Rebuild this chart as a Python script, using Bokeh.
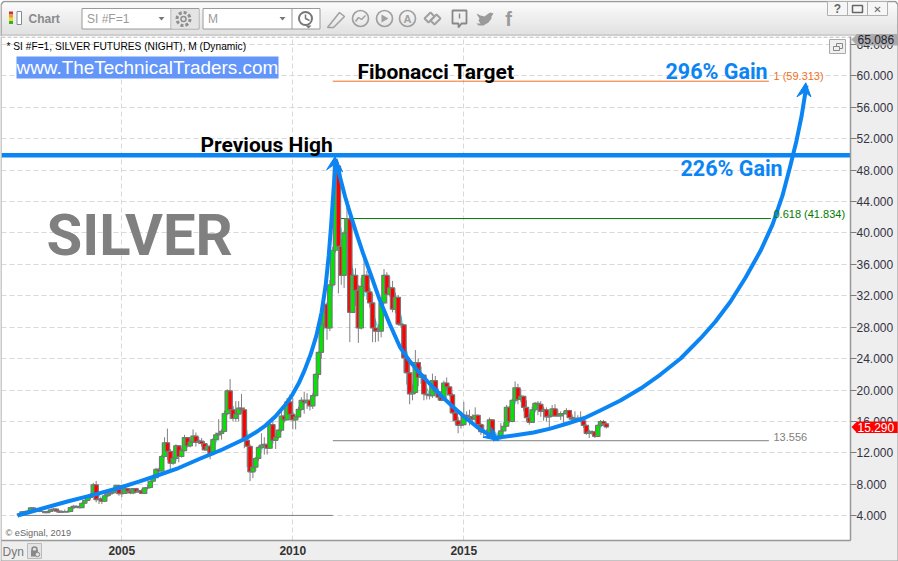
from bokeh.plotting import figure
from bokeh.layouts import column
from bokeh.embed import file_html
from bokeh.resources import INLINE
from bokeh.core.properties import value
from bokeh.models import (ColumnDataSource, FixedTicker, NumeralTickFormatter, Label,
                          BoxAnnotation)

# ---------------- monthly OHLC, Jan 2002 .. Mar 2019 ----------------
opens = [
 4.20,4.23,4.50,4.55,4.60,5.00,4.90,4.65,4.55,4.55,4.40,4.55,
 4.75,4.85,4.60,4.45,4.55,4.50,4.55,5.05,5.20,5.15,5.05,5.60,
 5.95,6.35,6.70,7.95,6.05,6.15,5.85,6.55,6.80,6.92,7.25,7.85,
 6.82,6.85,7.45,7.15,6.90,7.45,7.05,7.20,6.85,7.55,7.60,8.40,
 8.85,9.90,9.70,11.55,13.30,12.20,10.70,11.30,12.90,11.55,12.30,13.95,
 12.90,13.40,14.15,13.35,13.50,13.20,12.40,12.85,11.90,13.70,14.30,14.50,
 14.75,17.00,19.90,17.50,16.40,16.95,17.70,17.50,13.60,12.85,9.60,10.20,
 11.30,12.70,13.00,13.10,12.60,15.60,13.60,14.00,14.90,16.70,16.20,18.50,
 16.90,16.20,16.60,17.55,18.70,18.40,18.70,18.00,19.30,22.00,24.80,28.40,
 30.90,27.90,33.40,37.80,48.50,38.30,34.60,40.00,41.80,29.90,34.60,32.70,
 27.90,33.20,34.60,32.50,31.10,27.90,27.50,27.50,31.10,34.60,32.20,33.00,
 30.30,31.80,28.40,28.30,24.10,22.20,19.50,19.70,23.50,21.60,21.90,19.50,
 19.40,19.30,21.20,19.80,19.10,18.70,20.90,20.40,19.40,17.10,16.10,15.50,
 15.60,16.80,16.60,16.60,16.30,16.80,15.60,14.70,14.60,14.50,16.20,14.10,
 13.80,14.10,14.80,15.40,17.80,16.00,18.70,20.30,18.80,19.20,17.80,16.50,
 15.90,17.50,18.30,18.20,17.30,17.50,16.60,16.70,17.60,16.70,16.70,17.00,
 17.00,17.40,16.50,16.30,16.40,16.40,16.10,15.50,14.50,14.70,14.70,14.10,
 15.50,16.00,15.70]
highs = [
 4.32,4.60,4.65,4.70,5.10,5.12,4.95,4.70,4.70,4.58,4.65,4.85,
 5.00,4.95,4.70,4.70,4.80,4.70,5.15,5.40,5.35,5.30,5.70,6.05,
 6.60,6.90,8.20,8.45,6.30,6.30,6.90,6.95,7.25,7.40,7.95,8.00,
 7.00,7.60,7.55,7.50,7.55,7.55,7.30,7.40,7.60,7.90,8.45,9.25,
 10.10,10.10,11.75,14.00,15.10,12.50,11.60,13.10,13.00,12.60,14.30,14.00,
 13.75,15.00,14.60,14.00,13.90,13.50,13.20,13.10,13.90,14.60,16.30,15.00,
 17.40,20.10,21.40,18.00,18.60,18.60,19.50,17.80,14.20,13.10,10.80,11.50,
 12.90,14.50,14.00,13.10,15.90,16.10,14.20,15.00,17.50,18.00,19.00,19.45,
 19.00,16.70,17.90,19.10,19.80,19.60,18.80,19.60,22.10,24.90,29.00,31.20,
 31.20,34.00,38.20,49.80,49.00,39.30,40.30,43.30,42.00,35.50,35.50,33.40,
 34.30,37.50,35.20,33.00,32.30,29.00,28.40,31.80,35.40,35.00,34.50,33.90,
 32.40,32.10,29.30,28.40,24.90,23.50,20.60,25.10,24.00,23.00,22.00,20.20,
 20.50,22.10,21.80,20.20,19.80,21.20,21.60,20.50,19.60,17.50,16.60,17.30,
 18.50,17.30,17.50,16.90,17.80,16.90,15.80,15.60,15.00,16.50,16.30,14.50,
 14.60,15.80,15.90,18.10,18.00,18.90,21.10,20.80,20.10,19.30,18.70,17.00,
 17.90,18.50,18.60,18.60,17.90,17.80,17.00,18.10,18.20,17.50,17.30,17.30,
 17.70,17.50,16.90,17.30,16.80,17.30,16.00,15.60,14.90,14.90,14.70,15.60,
 16.20,16.20,15.90]
lows = [
 4.18,4.20,4.45,4.50,4.55,4.75,4.55,4.45,4.48,4.35,4.38,4.50,
 4.70,4.55,4.35,4.40,4.45,4.42,4.50,4.95,5.00,4.95,5.00,5.50,
 5.90,6.10,6.65,5.70,5.50,5.50,5.75,6.40,6.55,6.80,7.20,6.55,
 6.40,6.80,6.85,6.75,6.75,6.95,6.90,6.80,6.80,7.40,7.50,8.30,
 8.80,9.20,9.60,11.50,11.10,9.50,10.50,11.00,10.80,11.40,12.20,12.70,
 12.70,13.30,12.80,13.10,12.80,12.30,12.20,11.20,11.70,13.60,13.60,13.70,
 14.70,16.80,16.30,16.00,16.00,16.00,17.00,12.60,10.20,8.40,8.80,9.70,
 11.00,12.50,11.80,11.80,12.50,13.20,12.50,13.80,14.70,15.90,16.30,16.70,
 15.00,15.00,16.50,17.40,17.00,17.60,17.40,17.60,19.20,21.50,24.00,28.20,
 26.40,27.50,33.10,37.50,32.30,33.40,33.00,37.80,26.10,30.00,30.70,26.00,
 27.70,33.00,31.50,30.50,26.10,26.10,26.20,26.70,31.00,31.00,31.90,29.90,
 29.80,28.20,27.90,22.20,20.70,18.20,18.70,19.50,20.50,20.80,18.70,18.80,
 18.80,19.00,19.40,18.70,18.60,18.60,20.00,19.20,16.90,15.60,14.50,15.10,
 15.50,16.00,15.50,15.80,16.00,15.50,14.30,13.90,14.20,14.40,14.00,13.60,
 13.60,13.70,14.80,15.30,15.80,15.90,18.50,18.20,18.50,17.30,16.00,15.60,
 15.90,17.30,16.80,16.60,16.10,16.00,15.20,16.60,16.60,16.60,16.20,15.70,
 16.90,16.20,16.00,16.20,16.00,15.90,15.20,14.30,13.90,14.30,13.90,14.00,
 15.30,15.50,15.10]
closes = [
 4.23,4.50,4.55,4.60,5.00,4.90,4.65,4.55,4.55,4.40,4.55,4.75,
 4.85,4.60,4.45,4.55,4.50,4.55,5.05,5.20,5.15,5.05,5.60,5.95,
 6.35,6.70,7.95,6.05,6.15,5.85,6.55,6.80,6.92,7.25,7.85,6.82,
 6.85,7.45,7.15,6.90,7.45,7.05,7.20,6.85,7.55,7.60,8.40,8.85,
 9.90,9.70,11.55,13.30,12.20,10.70,11.30,12.90,11.55,12.30,13.95,12.90,
 13.40,14.15,13.35,13.50,13.20,12.40,12.85,11.90,13.70,14.30,14.50,14.75,
 17.00,19.90,17.50,16.40,16.95,17.70,17.50,13.60,12.85,9.60,10.20,11.30,
 12.70,13.00,13.10,12.60,15.60,13.60,14.00,14.90,16.70,16.20,18.50,16.90,
 16.20,16.60,17.55,18.70,18.40,18.70,18.00,19.30,22.00,24.80,28.40,30.90,
 27.90,33.40,37.80,48.50,38.30,34.60,40.00,41.80,29.90,34.60,32.70,27.90,
 33.20,34.60,32.50,31.10,27.90,27.50,27.50,31.10,34.60,32.20,33.00,30.30,
 31.80,28.40,28.30,24.10,22.20,19.50,19.70,23.50,21.60,21.90,19.50,19.40,
 19.30,21.20,19.80,19.10,18.70,20.90,20.40,19.40,17.10,16.10,15.50,15.60,
 16.80,16.60,16.60,16.30,16.80,15.60,14.70,14.60,14.50,16.20,14.10,13.80,
 14.10,14.80,15.40,17.80,16.00,18.70,20.30,18.80,19.20,17.80,16.50,15.90,
 17.50,18.30,18.20,17.30,17.50,16.60,16.70,17.60,16.70,16.70,17.00,17.00,
 17.40,16.50,16.30,16.40,16.40,16.10,15.50,14.50,14.70,14.70,14.10,15.50,
 16.00,15.70,15.30]
ma_line = [
 4.2,4.4,4.4,4.55,4.7,4.8,4.85,4.7,4.6,4.5,4.5,4.6,
 4.7,4.7,4.6,4.5,4.5,4.5,4.7,4.9,5.1,5.15,5.3,5.55,
 5.9,6.3,7.0,6.9,6.7,6.0,6.2,6.4,6.75,7.0,7.35,7.3,
 7.2,7.05,7.15,7.2,7.2,7.1,7.2,7.05,7.2,7.35,7.85,8.3,
 9.05,9.5,10.4,11.5,12.35,12.05,11.4,11.65,11.9,12.25,12.6,13.05,
 13.4,13.8,13.9,13.7,13.35,13.1,12.8,12.4,12.8,13.3,14.2,14.5,
 15.4,17.2,18.1,17.9,16.95,17.0,17.4,16.3,14.65,12.0,10.9,10.4,
 11.4,12.3,12.9,12.9,13.8,13.9,14.4,14.2,15.2,15.95,17.1,17.2,
 17.2,16.6,16.8,17.6,18.2,18.6,18.4,18.7,19.4,22.0,25.2,28.0,
 29.0,30.7,33.0,39.7,41.5,40.5,37.6,38.8,37.2,35.4,32.4,31.7,
 31.3,31.9,33.4,33.0,30.5,28.9,27.6,28.7,31.1,32.9,33.3,31.8,
 31.7,30.2,29.5,26.9,24.9,21.9,20.5,20.9,21.6,22.3,21.0,20.3,
 19.4,19.9,20.1,20.0,19.2,19.6,20.0,20.2,19.0,17.5,16.2,15.7,
 15.9,16.3,16.7,16.5,16.6,16.2,15.7,15.0,14.6,15.1,14.8,14.7,
 14.0,14.2,14.8,16.0,16.4,17.5,18.3,19.3,19.4,18.6,17.5,16.7,
 16.6,17.2,18.0,17.9,17.7,17.1,16.9,17.0,17.0,17.0,16.8,16.9,
 17.1,16.9,16.7,16.4,16.4,16.3,16.0,15.4,14.9,14.6,14.5,14.8,
 15.2,15.7,15.7]
first_year = 2002

# levels
prev_high = 49.9
fib_1 = 59.313
fib_618 = 41.834
fib_low = 13.556
base_level = 4.05
last_price = 15.29
top_price = 65.086

# hand-drawn blue curves (year, price)
c1_year = [2001.95,2002.68,2003.41,2004.2,2004.96,2005.5,2006.04,2006.66,2007.30,2007.94,2008.62,2008.91,2009.20,2009.49,2009.79,2009.99,2010.17,2010.34,2010.52,2010.69,2010.84,2010.96,2011.05,2011.12,2011.18,2011.23,2011.25]
c1_price = [4.04,4.93,5.82,6.70,7.60,8.35,9.13,10.08,11.29,12.44,13.84,14.60,15.49,16.64,18.16,19.43,20.83,22.48,24.52,26.93,29.86,33.29,37.11,40.93,44.75,47.93,49.46]
c2_year = [2011.26,2011.4,2011.53,2011.67,2011.86,2012.05,2012.3,2012.54,2012.83,2013.13,2013.38,2013.63,2013.86,2014.09,2014.38,2014.68,2015.03,2015.38,2015.68,2015.99]
c2_price = [49.31,46.76,44.6,42.56,39.95,37.47,34.45,31.49,28.45,25.51,23.9,22.58,21.45,20.42,19.1,17.87,16.55,15.33,14.45,13.8]
c3_year = [2015.84,2016.01,2016.51,2017.04,2017.53,2018.03,2018.53,2018.99,2019.58,2020.17,2020.75,2021.34,2021.92,2022.36,2022.80,2023.24,2023.68,2024.03,2024.32,2024.55,2024.73,2024.88,2025.02]
c3_price = [13.71,13.97,14.26,14.6,15.1,15.75,16.45,17.4,18.67,20.2,21.98,24.02,26.57,28.73,31.28,34.33,37.76,41.08,44.77,48.59,51.77,54.95,58.77]
head1_year = [2011.23,2010.99,2011.2,2011.46]
head1_price = [49.69,48.04,48.67,47.78]
head2_year = [2016.02,2015.56,2015.82,2015.8]
head2_price = [13.55,14.0,14.3,15.3]
head3_year = [2025.0,2024.74,2024.97,2025.15]
head3_price = [59.11,57.33,57.96,57.33]

y_ticks = [4,8,12,16,20,24,28,32,36,40,44,48,52,56,60,64]
x_ticks = [2005,2010,2015]

BLUE = "#0b85f3"
SANS = "Liberation Sans"
HEAD = "Roboto"
OFF = 36   # height of the strip above the chart figure

# ---------------- toolbar strip ----------------
t = figure(width=898, height=OFF, x_range=(0,898), y_range=(OFF,0), toolbar_location=None,
           output_backend="svg", min_border=0, outline_line_color=None, border_fill_color="#eeeeee",
           frame_align=False)
t.axis.visible = False
t.grid.visible = False
def grey(r):
    g = int(252-38*(r/35))
    return "#%02x%02x%02x" % (g,g,g)
rows = list(range(OFF))
t.quad(left=0, right=898, top=rows, bottom=[r+1 for r in rows],
       fill_color=[grey(r) for r in rows], line_color=None)
t.line([0.5,0.5,3,895,897.5,897.5],[OFF,4,1,1,4,OFF], line_color="#9a9a9a", line_width=1.5)
t.line([0,898],[34.5,34.5], line_color="#bdbdbd", line_width=1)

def ttext(x,y,s,size,color,style="normal",font=SANS,align="left"):
    t.text([x],[y],text=[s],text_font=value(font),text_font_size=size,text_color=color,
           text_font_style=style,text_baseline="middle",text_align=align)

# chart icon
for i,c in enumerate(["#d03030","#e8a020","#e8e020","#30b030"]):
    t.quad(left=8.5,right=12.5,top=11+i*3.2,bottom=14+i*3.2,fill_color=c,line_color=None)
t.quad(left=16.5,right=21,top=11,bottom=24,fill_color="#ffffff",line_color="#7f8c9a")
ttext(28,18.5,"Chart","12px","#8a8a8a","bold")
# combo boxes
for x0,x1,sep,label,arrow in [(81.5,198.5,170.5,"SI #F=1",161),(202.5,319.5,291.5,"M",282)]:
    t.quad(left=x0,right=x1,top=8,bottom=28.5,fill_color="#ffffff",line_color="#9a9a9a")
    t.line([sep,sep],[8,28.5],line_color="#9a9a9a")
    ttext(x0+5,18.5,label,"12px","#9a9a9a")
    t.patch([arrow-3,arrow+3,arrow],[16.5,16.5,20],fill_color="#777777",line_color=None)
t.quad(left=171,right=198,top=8.5,bottom=28,fill_color="#e4e4e4",line_color=None)
ICON="#a0a0a0"
t.circle([183],[18.5],radius=6.5,fill_color=None,line_color="#909090",line_width=3,line_dash="3 2")
t.circle([183],[18.5],radius=2.5,fill_color=None,line_color="#909090",line_width=1.5)
t.circle([305],[18],radius=6.5,fill_color=None,line_color="#777777",line_width=2)
t.line([305,305,309],[14,18,20],line_color="#777777",line_width=1.5)
t.patch([305,311,308],[25,25,28],fill_color="#777777",line_color=None)
# pencil
t.patch([327,339,344,333,327],[27,12,16,27,27],fill_color=None,line_color=ICON,line_width=1.5)
# circled icons
for cx,r in [(360,8),(384,8),(407,8)]:
    t.circle([cx],[18],radius=r,fill_color=None,line_color=ICON,line_width=1.7)
t.line([355,358,361,365],[21,17,19,15],line_color=ICON,line_width=1.5)
t.patch([381,381,388],[14,22,18],fill_color=ICON,line_color=None)
ttext(407,18,"A","11px",ICON,"bold",align="center")
# link
t.patch([424,430,434,428],[18,12,16,22],fill_color=None,line_color=ICON,line_width=2)
t.patch([430,436,440,434],[20,14,18,24],fill_color=None,line_color=ICON,line_width=2)
# speech box
t.patch([452,466,466,461,458,458,452],[10,10,23,23,27,23,23],fill_color=None,line_color="#888888",line_width=1.8)
t.line([459,459],[13,18],line_color="#888888",line_width=1.5)
# twitter bird
t.patch([476,480,484,488,490,493,491,491,488,483,478,476,480,478,479,477],
        [13,15,16,13,12,13,16,18,22,25,25,23,23,20,18,15],fill_color="#9a9a9a",line_color=None)
ttext(508,18,"f","20px","#9a9a9a","bold",align="center")
# window buttons
t.quad(left=827,right=887,top=1,bottom=15,fill_color="#f6f6f6",line_color="#b0b0b0")
for x in (847,867):
    t.line([x,x],[1,15],line_color="#b0b0b0")
ttext(837,8.5,"?","12px","#666666","bold",align="center")
t.quad(left=852,right=862,top=5,bottom=12,fill_color=None,line_color="#666666",line_width=1.5)
ttext(877,8.5,"\u2715","10px","#666666","bold",font="DejaVu Sans",align="center")

# ---------------- chart ----------------
PX_PER_YEAR = 34.2
PX_PER_UNIT = 7.857
x_left = 2005 - 120.3/PX_PER_YEAR
x_right = 2005 + 728.7/PX_PER_YEAR
y_low = 4 - 24.7/PX_PER_UNIT
y_top = 60 + 39.3/PX_PER_UNIT

p = figure(width=898, height=561-OFF, x_range=(x_left,x_right), y_range=(y_low,y_top),
           toolbar_location=None, output_backend="svg", y_axis_location="right",
           min_border_left=1, min_border_right=48, min_border_top=0, min_border_bottom=21,
           background_fill_color="#ffffff", border_fill_color="#eeeeee", outline_line_color=None,
           frame_align=False)
p.yaxis.ticker = FixedTicker(ticks=y_ticks)
p.xaxis.ticker = FixedTicker(ticks=x_ticks)
p.yaxis.formatter = NumeralTickFormatter(format="0.000")
p.xaxis.major_tick_line_color = None
p.xaxis.major_tick_out = 0
p.xaxis.major_tick_in = 0
p.xaxis.minor_tick_line_color = None
p.yaxis.minor_tick_line_color = None
p.yaxis.major_tick_in = 0
p.yaxis.major_tick_out = 6
p.yaxis.major_tick_line_color = "#7a7a7a"
p.axis.axis_line_color = "#999999"
p.axis.axis_line_width = 1.5
p.yaxis.major_label_text_font = SANS
p.yaxis.major_label_text_font_size = "12px"
p.yaxis.major_label_text_color = "#333344"
p.yaxis.major_label_standoff = 0
p.xaxis.major_label_text_font = SANS
p.xaxis.major_label_text_font_size = "12px"
p.xaxis.major_label_text_font_style = "bold"
p.xaxis.major_label_text_color = "#333333"
p.xaxis.major_label_standoff = 5
p.grid.grid_line_color = "#d9d9d9"
p.grid.grid_line_dash = "5 3"
p.grid.grid_line_width = 1

years = [first_year + i/12 for i in range(len(closes))]
src = ColumnDataSource(dict(x=years, o=opens, h=highs, l=lows, c=closes, ma=ma_line,
        color=["#00e600" if c >= o else "#ff0000" for o,c in zip(opens,closes)],
        top=[max(o,c) for o,c in zip(opens,closes)], bot=[min(o,c) for o,c in zip(opens,closes)]))

p.segment([x_left],[64.93],[x_right],[64.93],line_color="#aaaaaa",line_dash="4 2",line_width=1)

# level lines
p.segment([2011.17],[fib_1],[2023.92],[fib_1],line_color="#f07020",line_width=1)
p.segment([2011.37],[fib_618],[2023.98],[fib_618],line_color="#008000",line_width=1)
p.segment([2011.17],[fib_low],[2023.92],[fib_low],line_color="#808080",line_width=1)
p.segment([2001.93],[base_level],[2011.17],[base_level],line_color="#808080",line_width=1)

# moving average below the candles
p.line("x","ma",source=src,line_color="#22e8f0",line_width=1)
# candles
p.segment("x","h","x","l",source=src,line_color="#808080",line_width=1)
p.vbar("x",top="top",bottom="bot",width=4.4/PX_PER_YEAR,source=src,fill_color="color",
       line_color="#777777",line_width=1.2)

# previous high and arcs
p.segment([x_left],[prev_high],[x_right],[prev_high],line_color=BLUE,line_width=4.5)
for cx,cy in [(c1_year,c1_price),(c2_year,c2_price),(c3_year,c3_price)]:
    p.line(cx,cy,line_color=BLUE,line_width=4,line_join="round")
for hx,hy in [(head1_year,head1_price),(head2_year,head2_price),(head3_year,head3_price)]:
    p.patch(hx,hy,fill_color=BLUE,line_color=BLUE,line_width=1)

def lab(x,y,s,size,color,font=SANS,style="normal"):
    p.add_layout(Label(x=x,y=y,x_units="canvas",y_units="canvas",text=s,text_font=font,text_font_size=size,
                 text_color=color,text_font_style=style,text_baseline="middle"))

def box(x0,x1,y0,y1,fill,line=None):
    p.add_layout(BoxAnnotation(left=x0,right=x1,top=y0,bottom=y1,left_units="canvas",right_units="canvas",
                 top_units="canvas",bottom_units="canvas",fill_color=fill,fill_alpha=1,line_color=line,line_alpha=1 if line else 0))

# canvas y = window y - OFF
lab(6,46-OFF,"* SI #F=1, SILVER FUTURES (NIGHT), M (Dynamic)","10.2px","#000000")
box(16,278,56-OFF,78-OFF,"#6496fa")
lab(16,67-OFF,"www.TheTechnicalTraders.com","18.9px","#ffffff")
lab(357,71-OFF,"Fibonacci Target","21px","#000000",HEAD,"bold")
lab(200,144-OFF,"Previous High","21px","#000000",HEAD,"bold")
lab(665,71-OFF,"296% Gain","21.5px",BLUE,HEAD,"bold")
lab(680,168-OFF,"226% Gain","21.5px",BLUE,HEAD,"bold")
lab(46,234-OFF,"SILVER","58px","#808080",HEAD,"bold")
lab(773,75-OFF,"1 (%.3f)" % fib_1,"11px","#f07020")
lab(773,213-OFF,"0.618 (%.3f)" % fib_618,"11px","#007a00")
lab(773,436-OFF,"%.3f" % fib_low,"11px","#808080")
lab(5,532-OFF,"\u00a9 eSignal, 2019","9.2px","#666666")

# restore icon
box(829,845,39-OFF,53-OFF,"#f0f0f0","#aaaaaa")
box(836,842,43-OFF,48-OFF,"#f0f0f0","#888888")
box(833,839,46-OFF,50-OFF,"#f0f0f0","#888888")

# ---------------- transparent sheet over the whole window: price tags and status bar ----------------
g = figure(width=898, height=561, x_range=(0,898), y_range=(561,0), toolbar_location=None,
           output_backend="svg", min_border=0, outline_line_color=None,
           background_fill_alpha=0, border_fill_alpha=0, margin=(-561,0,0,0), frame_align=False)
g.axis.visible = False
g.grid.visible = False

def gtext(x,y,s,size,color,style="normal"):
    g.text([x],[y],text=[s],text_font=value(SANS),text_font_size=size,text_color=color,
           text_font_style=style,text_baseline="middle")

def tag(cy,fill,txt,s):
    g.quad(left=856,right=898,top=cy-5.5,bottom=cy+6,fill_color=fill,line_color=None)
    g.patch([851,856.5,856.5],[cy,cy-5.5,cy+6],fill_color=fill,line_color=None)
    gtext(857,cy,s,"12px",txt)

tag(39,"#aaaaaa","#222233","%.3f" % top_price)
tag(515.3-(last_price-4)*PX_PER_UNIT,"#ff0000","#ffffff","%.3f" % last_price)

gtext(2,551,"Dyn","12px","#777777")
g.quad(left=27,right=41,top=543,bottom=558,fill_color="#e4e4e4",line_color="#bbbbbb")
g.quad(left=30.5,right=37.5,top=550,bottom=556,fill_color="#888888",line_color=None)
g.circle([34],[549],radius=2.5,fill_color=None,line_color="#888888",line_width=1.5)
g.circle([37],[554],radius=2.2,fill_color="#e4e4e4",line_color="#888888",line_width=1)

# window frame
g.line([0.5,0.5,897.5,897.5],[36,560.5,560.5,36],line_color="#9a9a9a",line_width=1)

layout = column(t, p, g, spacing=0, margin=0)
open("out.html","w").write(file_html(layout, INLINE))
